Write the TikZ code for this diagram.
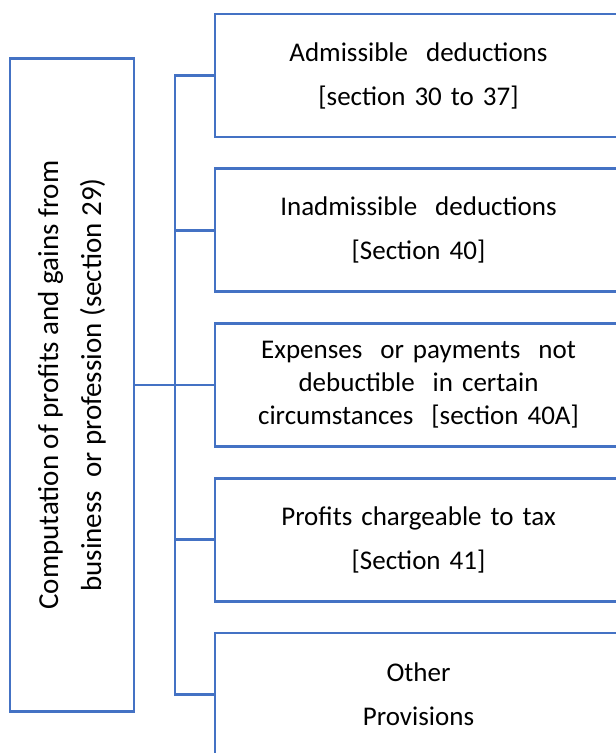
\documentclass[tikz,border=0pt]{standalone}
\usepackage{fontspec}
\setmainfont{Carlito}
\usetikzlibrary{positioning}
\definecolor{boxblue}{HTML}{4472C4}

\begin{document}
\begin{tikzpicture}[
    x=1pt,
    y=-1pt,
    mainbox/.style={draw=boxblue, line width=2.6pt, minimum width=124pt, minimum height=653pt,
        inner sep=0pt, outer sep=0pt},
    sectionbox/.style={draw=boxblue, line width=2.6pt, minimum width=407pt, minimum height=123pt,
        inner sep=0pt, outer sep=0pt, text width=400pt, align=center, font=\fontsize{27}{44}\selectfont},
    link/.style={boxblue, line width=2.6pt}
]

% =========================================================
% PARAMETRI
% =========================================================

\def\spinex{175}
\def\mainx{72}
\def\boxgap{31.75pt}

\clip (0,0) rectangle (616,753);

% =========================================================
% SEZIONI
% =========================================================

\node[sectionbox] (admissible) at (418.5,75.5)
    {Admissible\ \ deductions\\{}[section 30 to 37]};
\node[sectionbox, below=\boxgap of admissible] (inadmissible)
    {Inadmissible\ \ deductions\\{}[Section 40]};
\node[sectionbox, below=\boxgap of inadmissible, font=\fontsize{27}{33}\selectfont] (notdeductible)
    {Expenses\ \ or payments\ \ not\\debuctible\ \ in certain\\circumstances\ \ [section 40A]};
\node[sectionbox, below=\boxgap of notdeductible] (chargeable)
    {Profits chargeable to tax\\{}[Section 41]};
\node[sectionbox, below=\boxgap of chargeable] (other)
    {Other\\Provisions};

% =========================================================
% BLOCCO PRINCIPALE
% =========================================================

\coordinate (mainpos) at (\mainx,0);
\node[mainbox] (main) at (notdeductible -| mainpos) {};
\node[rotate=90, align=center, font=\fontsize{29}{43}\selectfont] (maintext) at (main)
    {Computation of profits and gains from\\business\ \ or profession (section 29)};

% =========================================================
% COLLEGAMENTI
% =========================================================

\coordinate (spine) at (\spinex,0);

% Linea principale
\draw[link] (main.east) -- (notdeductible.west);

% Linea verticale
\draw[link] (admissible.west) -- (admissible.west -| spine)
    -- (other.west -| spine) -- (other.west);

% Rami
\draw[link] (inadmissible.west) -- (inadmissible.west -| spine);
\draw[link] (chargeable.west) -- (chargeable.west -| spine);

\end{tikzpicture}
\end{document}
